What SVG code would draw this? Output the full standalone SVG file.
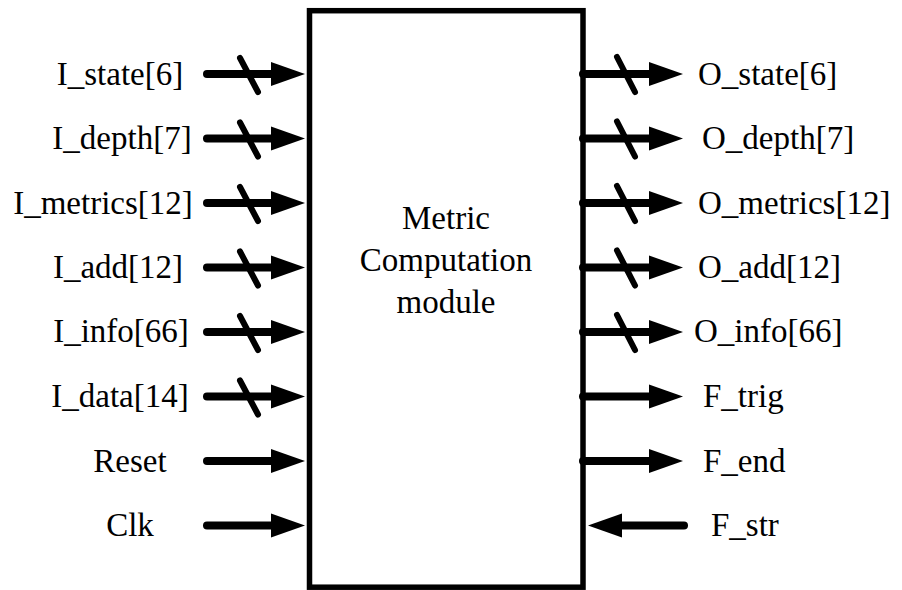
<svg xmlns="http://www.w3.org/2000/svg" width="902" height="590" viewBox="0 0 902 590">
<style>
text{font-family:'Liberation Serif','DejaVu Serif',serif;font-size:33px;fill:#000}
.l{text-anchor:middle}
.w{stroke:#000;stroke-width:8;stroke-linecap:round;fill:none}
.s{stroke:#000;stroke-width:6;stroke-linecap:round;fill:none}
</style>
<defs>
<marker id="ah" markerUnits="userSpaceOnUse" markerWidth="40" markerHeight="28" viewBox="0 -14 40 28" refX="2" refY="0" orient="auto">
<path d="M0,-12 L34,0 L0,12 Z" fill="#000"/>
</marker>
</defs>
<rect fill="#fff" width="902" height="590"/>
<g id="module">
<rect x="309.5" y="10.7" width="273.5" height="576.5" fill="#fff" stroke="#000" stroke-width="5.5"/>
<text class="l" x="446" y="229">Metric</text>
<text class="l" x="446" y="271">Computation</text>
<text class="l" x="446" y="313">module</text>
</g>
<g id="connectors">
<line class="w" x1="207" y1="74" x2="273" y2="74" marker-end="url(#ah)"/>
<line class="w" x1="207" y1="138.5" x2="273" y2="138.5" marker-end="url(#ah)"/>
<line class="w" x1="207" y1="203" x2="273" y2="203" marker-end="url(#ah)"/>
<line class="w" x1="207" y1="267.5" x2="273" y2="267.5" marker-end="url(#ah)"/>
<line class="w" x1="207" y1="332" x2="273" y2="332" marker-end="url(#ah)"/>
<line class="w" x1="207" y1="396.5" x2="273" y2="396.5" marker-end="url(#ah)"/>
<line class="w" x1="207" y1="461" x2="273" y2="461" marker-end="url(#ah)"/>
<line class="w" x1="207" y1="525.5" x2="273" y2="525.5" marker-end="url(#ah)"/>
<line class="s" x1="240" y1="58" x2="258" y2="92"/>
<line class="s" x1="240" y1="122.5" x2="258" y2="156.5"/>
<line class="s" x1="240" y1="187" x2="258" y2="221"/>
<line class="s" x1="240" y1="251.5" x2="258" y2="285.5"/>
<line class="s" x1="240" y1="316" x2="258" y2="350"/>
<line class="s" x1="240" y1="380.5" x2="258" y2="414.5"/>
<line class="w" x1="583" y1="74" x2="651" y2="74" marker-end="url(#ah)"/>
<line class="w" x1="583" y1="138.5" x2="651" y2="138.5" marker-end="url(#ah)"/>
<line class="w" x1="583" y1="203" x2="651" y2="203" marker-end="url(#ah)"/>
<line class="w" x1="583" y1="267.5" x2="651" y2="267.5" marker-end="url(#ah)"/>
<line class="w" x1="583" y1="332" x2="651" y2="332" marker-end="url(#ah)"/>
<line class="w" x1="583" y1="396.5" x2="651" y2="396.5" marker-end="url(#ah)"/>
<line class="w" x1="583" y1="461" x2="651" y2="461" marker-end="url(#ah)"/>
<line class="w" x1="684" y1="525.5" x2="620" y2="525.5" marker-end="url(#ah)"/>
<line class="s" x1="617" y1="57" x2="635" y2="92"/>
<line class="s" x1="617" y1="121.5" x2="635" y2="156.5"/>
<line class="s" x1="617" y1="186" x2="635" y2="221"/>
<line class="s" x1="617" y1="250.5" x2="635" y2="285.5"/>
<line class="s" x1="617" y1="315" x2="635" y2="350"/>
</g>
<g id="inputs">
<text class="l" x="120" y="85">I_state[6]</text>
<text class="l" x="122" y="149">I_depth[7]</text>
<text class="l" x="103" y="214">I_metrics[12]</text>
<text class="l" x="118" y="278">I_add[12]</text>
<text class="l" x="121" y="342">I_info[66]</text>
<text class="l" x="120" y="407">I_data[14]</text>
<text class="l" x="130" y="472">Reset</text>
<text class="l" x="130" y="536">Clk</text>
</g>
<g id="outputs">
<text x="698" y="85">O_state[6]</text>
<text x="702" y="149">O_depth[7]</text>
<text x="698" y="214">O_metrics[12]</text>
<text x="698" y="278">O_add[12]</text>
<text x="694" y="342">O_info[66]</text>
<text x="703" y="407">F_trig</text>
<text x="703" y="472">F_end</text>
<text x="711" y="536">F_str</text>
</g>
</svg>
